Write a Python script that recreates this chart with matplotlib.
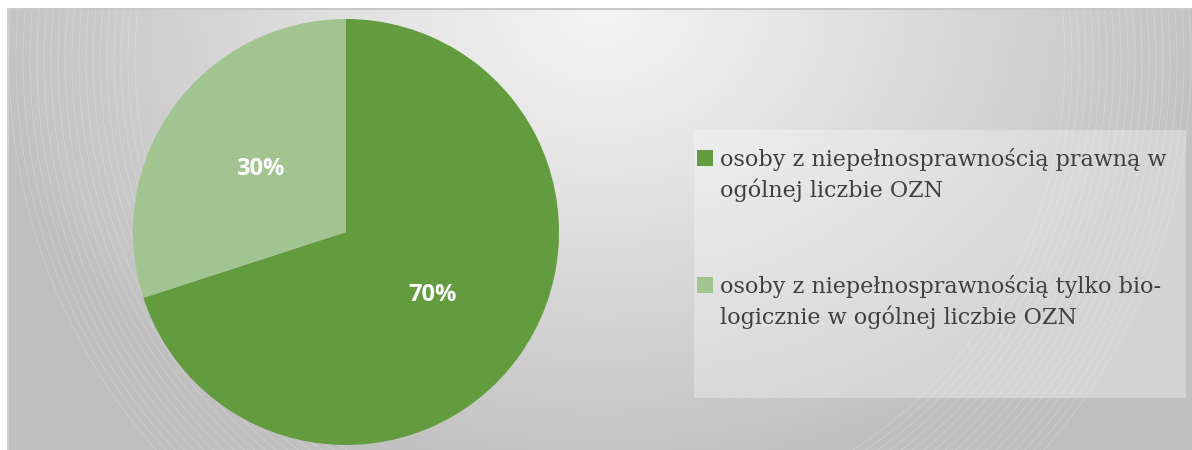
import numpy as np
import matplotlib.pyplot as plt
from matplotlib.patches import Rectangle, Circle

# udział osób z niepełnosprawnością
labels = ['osoby z niepełnosprawnością prawną w\nogólnej liczbie OZN',
          'osoby z niepełnosprawnością tylko bio-\nlogicznie w ogólnej liczbie OZN']
shares = [70, 30]
colors = ['#639B3F', '#A2C491']

W, H = 1192, 450
fig = plt.figure(figsize=(W / 100, H / 100), dpi=100)
fig.patch.set_facecolor('white')

# tło obszaru wykresu w pikselach
bg = fig.add_axes([0, 0, 1, 1])
bg.set_xlim(0, W)
bg.set_ylim(H, 0)
bg.axis('off')

x0, y0 = 8, 9
yy, xx = np.mgrid[0:H, 0:W]
d = np.sqrt(((xx - 600) / 620.0) ** 2 + ((yy - 15) / 470.0) ** 2)
val = 244 - 52 * np.clip(d, 0, 1) ** 1.1
img = np.dstack([val, val, val]) / 255.0
bg.imshow(img, extent=(0, W, H, 0), aspect='auto', zorder=0)
bg.add_patch(Rectangle((0, 0), W, y0, facecolor='white', edgecolor='none', zorder=1))
bg.add_patch(Rectangle((0, 0), x0, H, facecolor='white', edgecolor='none', zorder=1))
bg.plot([x0, W], [y0, y0], color='#c8c8c8', lw=1.5, zorder=2)
bg.plot([x0, x0], [y0, H], color='#d0d0d0', lw=1.5, zorder=2)

# delikatne łuki
clip = Rectangle((x0, y0), W - x0, H - y0, transform=bg.transData)
for r in np.arange(465, 595, 7):
    c = Circle((600, 60), r, fill=False, edgecolor='white', lw=0.6, alpha=0.22, zorder=1)
    bg.add_patch(c)
    c.set_clip_path(clip)

# ramka legendy
bg.add_patch(Rectangle((694, 130), 492, 268, facecolor='white', alpha=0.3,
                       edgecolor='none', zorder=2))

# legenda: kwadrat przy pierwszym wierszu opisu
for i, (lab, col) in enumerate(zip(labels, colors)):
    top = 150 + i * 127
    bg.add_patch(Rectangle((697, top), 16, 16, facecolor=col, edgecolor='none', zorder=3))
    bg.text(720, top - 2, lab, ha='left', va='top', fontsize=16, family='DejaVu Serif',
            color='#404040', linespacing=1.4, zorder=3)

# wykres kołowy
cx, cy, r = 346, 232, 213
ax = fig.add_axes([(cx - r) / W, (H - cy - r) / H, 2 * r / W, 2 * r / H])
wedges, _, autotexts = ax.pie(shares, colors=colors, startangle=90, counterclock=False,
                              autopct='%1.0f%%', pctdistance=0.5,
                              wedgeprops=dict(linewidth=0))
for t in autotexts:
    t.set_color('white')
    t.set_fontsize(17)
    t.set_fontweight('bold')
    t.set_fontfamily('Open Sans')
ax.set_xlim(-1, 1)
ax.set_ylim(-1, 1)
ax.set_aspect('auto')
ax.axis('off')

fig.savefig('out.png', dpi=100)
